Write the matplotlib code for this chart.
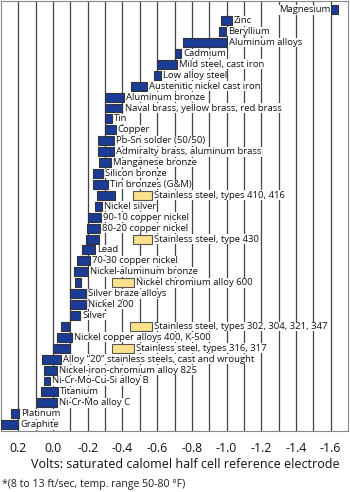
import numpy as np
import matplotlib
matplotlib.use("Agg")
import matplotlib.pyplot as plt

plt.rcParams['font.family'] = ['Open Sans', 'DejaVu Sans']

# galvanic series in seawater (volts vs SCE), from most active to most noble
metals = ["Magnesium", "Zinc", "Beryllium", "Aluminum alloys", "Cadmium",
          "Mild steel, cast iron", "Low alloy steel", "Austenitic nickel cast iron",
          "Aluminum bronze", "Naval brass, yellow brass, red brass", "Tin", "Copper",
          "Pb-Sn solder (50/50)", "Admiralty brass, aluminum brass", "Manganese bronze",
          "Silicon bronze", "Tin bronzes (G&M)", "Stainless steel, types 410, 416",
          "Nickel silver", "90-10 copper nickel", "80-20 copper nickel",
          "Stainless steel, type 430", "Lead", "70-30 copper nickel",
          "Nickel-aluminum bronze", "Nickel chromium alloy 600", "Silver braze alloys",
          "Nickel 200", "Silver", "Stainless steel, types 302, 304, 321, 347",
          "Nickel copper alloys 400, K-500", "Stainless steel, types 316, 317",
          "Alloy \u201c20\u201d stainless steels, cast and wrought",
          "Nickel-iron-chromium alloy 825", "Ni-Cr-Mo-Cu-Si alloy B", "Titanium",
          "Ni-Cr-Mo alloy C", "Platinum", "Graphite"]

v_noble = [-1.60, -0.97, -0.955, -0.75, -0.70, -0.60, -0.58, -0.45,
           -0.30, -0.30, -0.30, -0.30, -0.26, -0.26, -0.265,
           -0.23, -0.23, -0.255, -0.24, -0.20, -0.195,
           -0.19, -0.165, -0.14, -0.12, -0.125, -0.10,
           -0.10, -0.10, -0.045, -0.02, 0.0,
           0.065, 0.05, 0.05, 0.07, 0.095, 0.24, 0.30]
v_active = [-1.64, -1.03, -0.995, -1.00, -0.74, -0.715, -0.62, -0.54,
            -0.41, -0.40, -0.34, -0.36, -0.35, -0.35, -0.335,
            -0.29, -0.315, -0.355, -0.28, -0.275, -0.27,
            -0.265, -0.24, -0.215, -0.20, -0.16, -0.19,
            -0.19, -0.155, -0.09, -0.11, -0.10,
            -0.045, -0.02, 0.02, -0.03, -0.025, 0.195, 0.20]

# active (crevice) potentials for stainless / nickel chromium alloys
passive_rows = ["Stainless steel, types 410, 416", "Stainless steel, type 430",
                "Nickel chromium alloy 600", "Stainless steel, types 302, 304, 321, 347",
                "Stainless steel, types 316, 317"]
passive_noble = [-0.46, -0.46, -0.34, -0.445, -0.34]
passive_active = [-0.57, -0.57, -0.465, -0.57, -0.465]

fig = plt.figure(figsize=(3.5, 4.92), dpi=100)
ax = fig.add_axes([1/350, 1 - 431/492, 347/350, 430/492])

y = np.arange(len(metals))
blue = '#1b3c96'
yellow = '#fbe18e'
ax.barh(y, np.array(v_active) - np.array(v_noble), left=v_noble, height=0.82,
        color=blue, edgecolor='#333333', linewidth=0.8, zorder=3)

py = [metals.index(n) for n in passive_rows]
ax.barh(py, np.array(passive_active) - np.array(passive_noble), left=passive_noble,
        height=0.82, color=yellow, edgecolor='#555555', linewidth=0.8, zorder=3)

ends = list(v_active)
for n, pa in zip(passive_rows, passive_active):
    ends[metals.index(n)] = min(ends[metals.index(n)], pa)

for i, name in enumerate(metals):
    if name == "Magnesium":
        ax.text(v_noble[i] + 0.003, i, name, ha='right', va='center', fontsize=6.8,
                color='#111111', zorder=4,
                bbox=dict(facecolor='white', edgecolor='none', pad=0.3))
    else:
        ax.text(ends[i] - 0.012, i, name, ha='left', va='center', fontsize=6.8,
                color='#111111', zorder=4,
                bbox=dict(facecolor='white', edgecolor='none', pad=0.3))

ax.set_xlim(0.30, -1.70)
ax.set_ylim(38.58, -0.8)
ticks = np.round(np.arange(0.2, -1.61, -0.2), 1)
ax.set_xticks(ticks)
ax.set_xticklabels([f"{t:.1f}" if t != 0 else "0.0" for t in ticks], fontsize=8.8, color='#111111')
ax.tick_params(axis='x', length=0, pad=8)
ax.set_yticks([])
for gx in np.round(np.arange(0.2, -1.61, -0.1), 1):
    ax.axvline(gx, color='#444444', linewidth=0.9, zorder=1)
for s in ax.spines.values():
    s.set_color('#888888')
    s.set_linewidth(0.8)
ax.set_xlabel("Volts: saturated calomel half cell reference electrode", fontsize=9.0,
              color='#111111')
ax.xaxis.set_label_coords(0.53, -0.062)

fig.text(2/350, 1 - 484/492, "*(8 to 13 ft/sec, temp. range 50-80 \u00b0F)", fontsize=7.6,
         color='#222222', ha='left', va='center')

fig.savefig("out.png", dpi=100)
